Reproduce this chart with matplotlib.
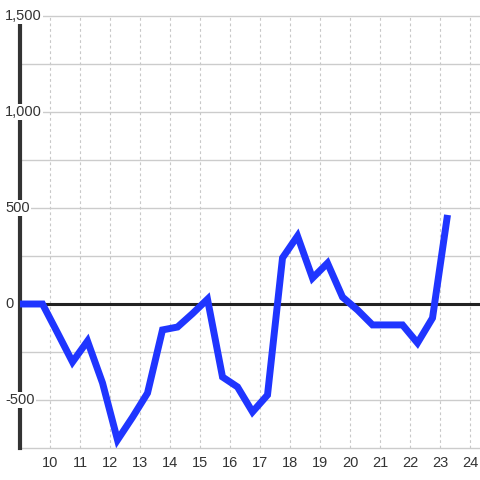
import matplotlib
matplotlib.use("Agg")
import matplotlib.pyplot as plt
from matplotlib.transforms import blended_transform_factory

# Data
x_vals = [8.75, 9.25, 9.75, 10.25, 10.75, 11.25, 11.75, 12.25, 12.75, 13.25, 13.75,
          14.25, 14.75, 15.25, 15.75, 16.25, 16.75, 17.25, 17.75, 18.25, 18.75,
          19.25, 19.75, 20.25, 20.75, 21.25, 21.75, 22.25, 22.75, 23.25]
y_vals = [0, 0, 0, -150, -302, -193, -411, -708, -590, -464, -135,
          -120, -50, 25, -380, -432, -562, -474, 240, 354, 135,
          213, 36, -31, -109, -109, -109, -203, -73, 464]
x_ticks = list(range(10, 25))
y_ticks = [-500, 0, 500, 1000, 1500]
y_tick_labels = ["-500", "0", "500", "1,000", "1,500"]
y_grid = [-750, -500, -250, 0, 250, 500, 750, 1000, 1250, 1500]

plt.rcParams['font.family'] = ['Liberation Sans', 'DejaVu Sans']

fig = plt.figure(figsize=(4.8, 4.8), dpi=100)
W, H = 480, 480
ax = fig.add_axes([20 / W, (H - 448) / H, 460 / W, 432 / H])
ax.set_xlim(9, 24.333)
ax.set_ylim(-750, 1500)

for s in ['top', 'right', 'bottom']:
    ax.spines[s].set_visible(False)
ax.spines['left'].set_linewidth(3)
ax.spines['left'].set_color('#333333')
ax.spines['left'].set_bounds(-750, 1458)
ax.spines['left'].set_zorder(3)

ax.set_xticks(x_ticks)
ax.set_xticklabels([str(t) for t in x_ticks])
ax.tick_params(axis='x', length=0, pad=6, labelsize=10.5, labelcolor='#333333')
ax.set_yticks([])

for xv in x_ticks:
    ax.axvline(xv, color='#c8c8c8', lw=0.8, ls=(0, (2.5, 2.5)), zorder=1, clip_on=False)
for yv in y_grid:
    ax.axhline(yv, color='#cccccc', lw=1.0, zorder=1, clip_on=False)

ax.axhline(0, color='#222222', lw=2.2, zorder=2)

ax.plot(x_vals, y_vals, color='#1f35ff', lw=5, solid_joinstyle='miter',
        solid_capstyle='butt', zorder=4)

trans = blended_transform_factory(fig.transFigure, ax.transData)
for yv, lab in zip(y_ticks, y_tick_labels):
    ax.text(5 / W, yv, lab, transform=trans, ha='left', va='center',
            fontsize=10.5, color='#333333', zorder=5, clip_on=False,
            bbox=dict(facecolor='white', edgecolor='none', pad=1))

fig.savefig('out.png', dpi=100, facecolor='white')
